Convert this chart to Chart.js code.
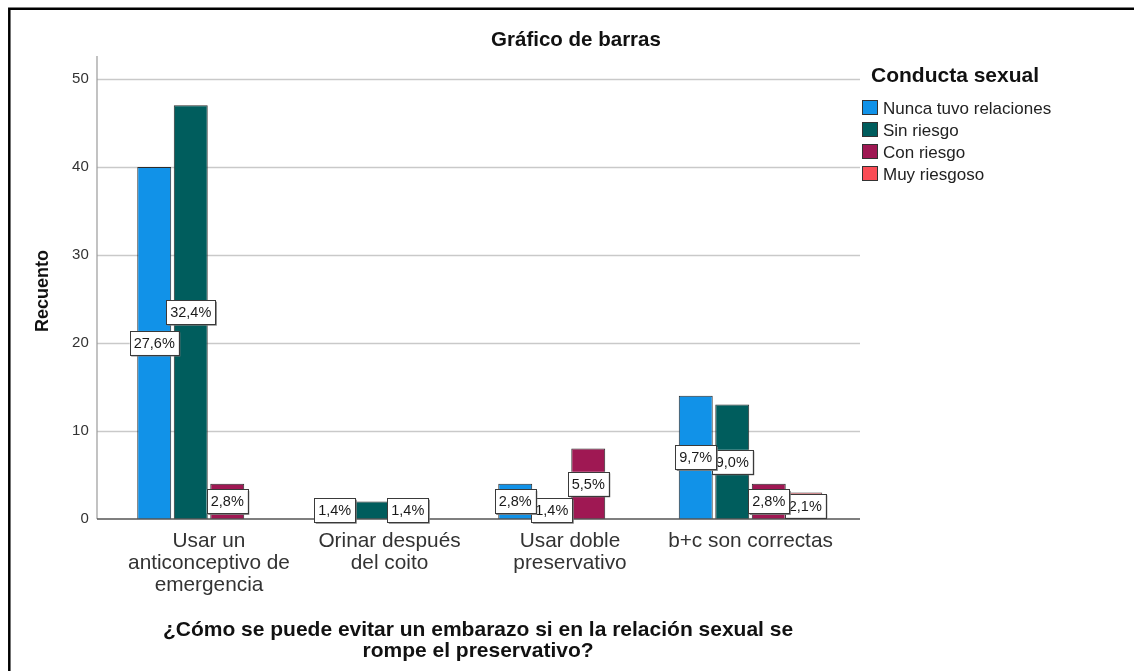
<!DOCTYPE html>
<html>
<head>
<meta charset="utf-8">
<script src="https://cdn.jsdelivr.net/npm/chart.js@4/dist/chart.umd.min.js"></script>
<style>
  html, body { margin: 0; padding: 0; background: #fff; }
  #wrap { position: relative; width: 1134px; height: 671px; }
</style>
</head>
<body>
<div id="wrap"><canvas id="barChart" width="1134" height="671"></canvas></div>
<script>
// data (counts)
const categories = [
  ["Usar un", "anticonceptivo de", "emergencia"],
  ["Orinar después", "del coito"],
  ["Usar doble", "preservativo"],
  ["b+c son correctas"],
];
const seriesNames = ["Nunca tuvo relaciones", "Sin riesgo", "Con riesgo", "Muy riesgoso"];
const nuncaTuvo = [40, 2, 4, 14];
const sinRiesgo = [47, 2, 2, 13];
const conRiesgo = [4, 2, 8, 4];
const muyRiesgoso = [0, 0, 0, 3];
const seriesColors = ["#1192e8", "#005d5d", "#9f1853", "#fa4d56"];
const yTicks = [0, 10, 20, 30, 40, 50];

const chartTitle = "Gráfico de barras";
const yTitle = "Recuento";
const xTitle = ["¿Cómo se puede evitar un embarazo si en la relación sexual se", "rompe el preservativo?"];
const legendTitle = "Conducta sexual";

const allSeries = [nuncaTuvo, sinRiesgo, conRiesgo, muyRiesgoso];
const total = allSeries.flat().reduce((a, b) => a + b, 0);

const FONT = '"Liberation Sans", Arial, sans-serif';
Chart.defaults.font.family = FONT;

// frame, titles and legend drawn by hand to follow the SPSS layout
const decorPlugin = {
  id: "decor",
  beforeDatasetsDraw(chart) {
    const ctx = chart.ctx;
    const y = chart.scales.y;
    ctx.save();
    ctx.strokeStyle = "#c9c9c9";
    ctx.lineWidth = 1.5;
    yTicks.forEach(function (v) {
      if (v === 0) return;
      const py = Math.round(y.getPixelForValue(v)) + 0.5;
      ctx.beginPath();
      ctx.moveTo(97, py);
      ctx.lineTo(860, py);
      ctx.stroke();
    });
    ctx.strokeStyle = "#9a9a9a";
    ctx.lineWidth = 1.2;
    ctx.beginPath();
    ctx.moveTo(97, y.getPixelForValue(y.max));
    ctx.lineTo(97, y.getPixelForValue(0));
    ctx.stroke();
    ctx.restore();
  },
  afterDatasetsDraw(chart) {
    const ctx = chart.ctx;
    const y = chart.scales.y;
    ctx.save();
    // x axis line
    ctx.strokeStyle = "#555";
    ctx.lineWidth = 1.5;
    const base = y.getPixelForValue(0);
    ctx.beginPath();
    ctx.moveTo(97, base);
    ctx.lineTo(860, base);
    ctx.stroke();

    // percentage labels
    ctx.font = "14.5px " + FONT;
    const boxes = [];
    chart.data.datasets.forEach(function (ds, di) {
      const meta = chart.getDatasetMeta(di);
      ds.data.forEach(function (v, i) {
        if (!v) return;
        const txt = (v / total * 100).toFixed(1).replace(".", ",") + "%";
        const w = ctx.measureText(txt).width + 8;
        const h = 24;
        const cx = meta.data[i].x;
        const cy = y.getPixelForValue(v / 2);
        boxes.push({ di: di, i: i, txt: txt, x: cx - w / 2, y: cy - h / 2, w: w, h: h, cx: cx, cy: cy });
      });
    });
    function overlaps(a, b) {
      return a.x < b.x + b.w && b.x < a.x + a.w && a.y < b.y + b.h && b.y < a.y + a.h;
    }
    // hide a label squeezed between both neighbours
    boxes.forEach(function (b) {
      const left = boxes.find(o => o.i === b.i && o.di === b.di - 1);
      const right = boxes.find(o => o.i === b.i && o.di === b.di + 1);
      b.hidden = !!(left && right && overlaps(b, left) && overlaps(b, right));
    });
    boxes.slice().reverse().forEach(function (b) {
      if (b.hidden) return;
      ctx.fillStyle = "#7a7a7a";
      ctx.fillRect(b.x + 1.5, b.y + 1.5, b.w, b.h);
      ctx.fillStyle = "#fff";
      ctx.fillRect(b.x, b.y, b.w, b.h);
      ctx.strokeStyle = "#3a3a3a";
      ctx.lineWidth = 1;
      ctx.strokeRect(Math.round(b.x) + 0.5, Math.round(b.y) + 0.5, Math.round(b.w), Math.round(b.h));
      ctx.fillStyle = "#1a1a1a";
      ctx.textAlign = "center";
      ctx.textBaseline = "middle";
      ctx.fillText(b.txt, b.cx, b.cy + 1);
    });
    ctx.restore();
  },
  afterDraw(chart) {
    const ctx = chart.ctx;
    ctx.save();
    // frame (top and left edges visible)
    ctx.strokeStyle = "#000";
    ctx.lineWidth = 2.5;
    ctx.beginPath();
    ctx.moveTo(1134, 8.7);
    ctx.lineTo(9.3, 8.7);
    ctx.lineTo(9.3, 671);
    ctx.stroke();

    ctx.fillStyle = "#111";
    ctx.textAlign = "center";
    ctx.textBaseline = "middle";
    ctx.font = "bold 20.5px " + FONT;
    ctx.fillText(chartTitle, 576, 40);

    ctx.font = "bold 21px " + FONT;
    ctx.fillText(xTitle[0], 478, 630);
    ctx.fillText(xTitle[1], 478, 651);

    ctx.save();
    ctx.translate(43, 291);
    ctx.rotate(-Math.PI / 2);
    ctx.font = "bold 18px " + FONT;
    ctx.fillText(yTitle, 0, 0);
    ctx.restore();

    // legend
    ctx.textAlign = "left";
    ctx.font = "bold 21px " + FONT;
    ctx.fillText(legendTitle, 871, 76);
    ctx.font = "17px " + FONT;
    chart.data.datasets.forEach(function (ds, di) {
      const ry = 108 + di * 22;
      ctx.fillStyle = ds.backgroundColor;
      ctx.fillRect(862.5, ry - 7.5, 15, 14);
      ctx.strokeStyle = "#333";
      ctx.lineWidth = 1;
      ctx.strokeRect(862.5, ry - 7.5, 15, 14);
      ctx.fillStyle = "#222";
      ctx.fillText(ds.label, 883, ry + 1);
    });
    ctx.restore();
  },
};

new Chart(document.getElementById("barChart").getContext("2d"), {
  type: "bar",
  data: {
    labels: categories,
    datasets: seriesNames.map(function (name, k) {
      return {
        label: name,
        data: allSeries[k],
        backgroundColor: seriesColors[k],
        borderColor: "#2b2b2b",
        borderWidth: 1,
        categoryPercentage: 0.809,
        barPercentage: 0.93,
      };
    }),
  },
  options: {
    responsive: false,
    animation: false,
    devicePixelRatio: 1,
    layout: {
      padding: { left: 0, right: 293.25, top: 56, bottom: 0 },
    },
    plugins: {
      legend: { display: false },
      tooltip: { enabled: false },
    },
    scales: {
      y: {
        min: 0,
        max: 52.6,
        afterFit: function (s) { s.width = 118.75; },
        afterBuildTicks: function (s) { s.ticks = yTicks.map(v => ({ value: v })); },
        grid: { display: false, drawTicks: false },
        border: { display: false },
        ticks: {
          color: "#333",
          font: { size: 15 },
          padding: 30,
        },
      },
      x: {
        afterFit: function (s) { s.height = 152; },
        grid: { display: false, drawTicks: false },
        border: { display: false },
        ticks: {
          color: "#333",
          font: { size: 20.8, lineHeight: "22px" },
          padding: 11,
          maxRotation: 0,
          autoSkip: false,
        },
      },
    },
  },
  plugins: [decorPlugin],
});
</script>
</body>
</html>
